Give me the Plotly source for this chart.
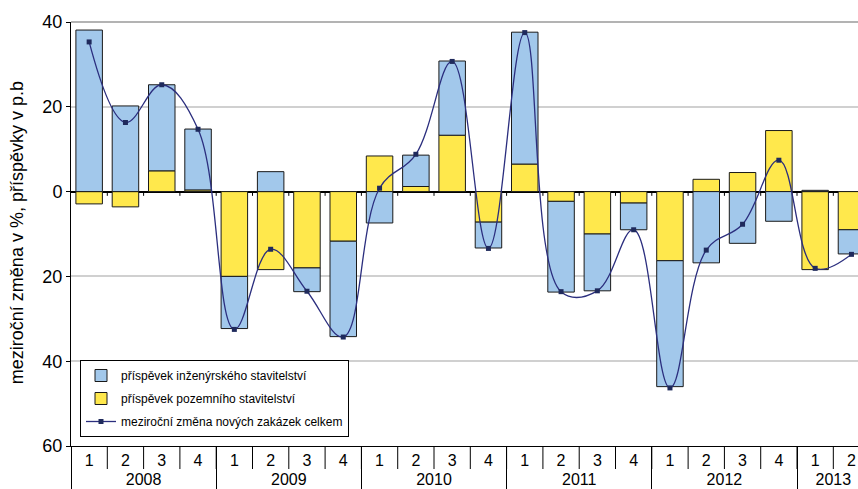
import plotly.graph_objects as go

years = ["2008"] * 4 + ["2009"] * 4 + ["2010"] * 4 + ["2011"] * 4 + ["2012"] * 4 + ["2013"] * 2
quarters = ["1", "2", "3", "4"] * 5 + ["1", "2"]

inzenyrske = [38.1, 20.2, 20.3, 14.35, -12.3, 4.7, -5.6, -22.5, -7.4, 7.4, 17.5, -6.1,
              31.1, -21.4, -13.4, -6.3, -29.7, -16.8, -12.2, -7.0, 0.3, -5.7]
pozemni = [-2.9, -3.6, 4.9, 0.4, -20.0, -18.4, -18.0, -11.7, 8.4, 1.2, 13.3, -7.2,
           6.5, -2.3, -10.0, -2.7, -16.3, 2.9, 4.5, 14.4, -18.4, -9.0]
celkem = [35.3, 16.3, 25.2, 14.7, -32.5, -13.6, -23.5, -34.3, 0.8, 8.8, 30.7, -13.4,
          37.5, -23.6, -23.4, -9.0, -46.3, -13.8, -7.7, 7.4, -18.1, -14.8]

y_tickvals = [40, 20, 0, -20, -40, -60]
y_ticktext = ["40", "20", "0", "20", "40", "60"]

names = ["příspěvek inženýrského stavitelství",
         "příspěvek pozemního stavitelství",
         "meziroční změna nových zakázek celkem"]

FONT = "Liberation Sans, Arial, sans-serif"
x = [years, quarters]

fig = go.Figure()
fig.add_trace(go.Bar(x=x, y=pozemni, name=names[1], legendrank=2, legendgroup="b",
                     marker=dict(color="#FFE84C", line=dict(color="#1a1a1a", width=1))))
fig.add_trace(go.Bar(x=x, y=inzenyrske, name=names[0], legendrank=1, legendgroup="a",
                     marker=dict(color="#A2C8EB", line=dict(color="#1a1a1a", width=1))))
fig.add_trace(go.Scatter(x=x, y=celkem, name=names[2], legendrank=3, legendgroup="c",
                         mode="lines+markers",
                         line=dict(color="#2B2E7E", width=1.3, shape="spline", smoothing=1.1),
                         marker=dict(symbol="square", size=5, color="#1F2A5C")))

n = len(quarters)
r0, r1 = -0.5, 21.18
plot_h = 489 - 22 - 43
shapes = []
for i in range(1, n + 1):
    xp = (i - 0.5 - r0) / (r1 - r0)
    if xp > 1:
        continue
    shapes.append(dict(type="line", xref="paper", yref="paper", x0=xp, x1=xp,
                       y0=0, y1=-23 / plot_h, line=dict(color="#000", width=1)))
    shapes.append(dict(type="line", xref="paper", yref="y", x0=xp, x1=xp,
                       y0=0, y1=-1, line=dict(color="#000", width=1)))
shapes.append(dict(type="line", xref="paper", yref="paper", x0=0, x1=1, y0=1, y1=1,
                   line=dict(color="#9a9a9a", width=1.5)))

fig.update_layout(
    width=858, height=489,
    margin=dict(l=71, r=0, t=22, b=43),
    paper_bgcolor="white", plot_bgcolor="white",
    barmode="relative", bargap=0.27,
    font=dict(family=FONT, color="#000"),
    showlegend=True,
    legend=dict(x=(80 - 71) / 787, y=(446 - 360) / plot_h, xanchor="left", yanchor="top",
                bgcolor="white", bordercolor="#000", borderwidth=1,
                font=dict(size=12, family=FONT), traceorder="grouped", tracegroupgap=4,
                itemwidth=30),
    xaxis=dict(type="multicategory", range=[r0, r1], showline=True, linecolor="#000",
               linewidth=1, ticks="", showgrid=False, showdividers=True,
               dividercolor="#000", dividerwidth=1, automargin=False,
               tickfont=dict(size=16, family=FONT)),
    yaxis=dict(range=[-60, 40], tickvals=y_tickvals, ticktext=y_ticktext,
               showline=True, linecolor="#000", linewidth=1, ticks="outside", ticklen=4,
               tickcolor="#000", showgrid=True, gridcolor="#d0d0d0", gridwidth=1.5,
               zeroline=True, zerolinecolor="#000", zerolinewidth=2, automargin=False,
               tickfont=dict(size=18, family=FONT)),
    shapes=shapes,
    annotations=[dict(text="meziroční změna v %, příspěvky v p.b", textangle=-90,
                      xref="paper", yref="paper", x=0, y=0.502, xshift=-54,
                      xanchor="center", yanchor="middle", showarrow=False,
                      font=dict(size=18, family=FONT))],
)

fig.write_html("out.html")
